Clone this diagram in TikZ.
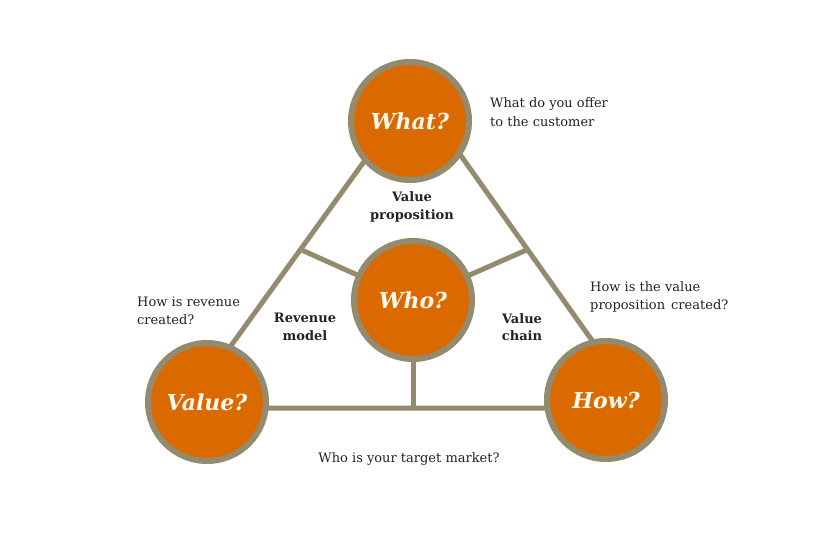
\documentclass[tikz,border=0pt]{standalone}
\usepackage{fontspec}
\setmainfont{DejaVu Serif}
\definecolor{ringc}{RGB}{148,138,110}
\definecolor{orangec}{RGB}{218,106,0}
\definecolor{titlec}{RGB}{255,248,235}
\definecolor{textc}{RGB}{35,35,35}
\begin{document}
\begin{tikzpicture}[x=1pt,y=-1pt,
  ball/.style={circle,draw=ringc,line width=6pt,fill=orangec,minimum size=118pt,inner sep=0pt,
    text=titlec,font=\fontsize{22}{24}\selectfont\bfseries\itshape},
  link/.style={draw=ringc,line width=5pt},
  lab/.style={text=textc,font=\fontsize{13}{17.5}\selectfont\bfseries,align=center,inner sep=0pt},
  note/.style={text=textc,font=\fontsize{13}{18.5}\selectfont,align=left,inner sep=0pt}]
\useasboundingbox (0,0) rectangle (814,540);
\fill[white] (0,0) rectangle (814,540);
\coordinate (A) at (415,91);
\coordinate (B) at (186,408);
\coordinate (C) at (640,408);
\coordinate (mAB) at (300.5,249.5);
\coordinate (mAC) at (527.5,249.5);
\coordinate (mBC) at (413,408);
\coordinate (whoc) at (413,300);
\draw[link,line join=miter] (A) -- (B) -- (C) -- cycle;
\draw[link] (mAB) -- (whoc);
\draw[link] (mAC) -- (whoc);
\draw[link] (mBC) -- (whoc);
\node[ball] (what) at (410,121) {What?};
\node[ball] (who) at (whoc) {Who?};
\node[ball] (value) at (207,402) {Value?};
\node[ball] (how) at (606,400) {How?};
\node[lab] (vp) at (412,207) {Value\\proposition};
\node[lab] (rm) at (305,327) {Revenue\\model};
\node[lab] (vc) at (522,327) {Value\\chain};
\node[note,anchor=west] (n1) at (490,112) {What do you offer\\to the customer};
\node[note,anchor=west] (n2) at (137,311) {How is revenue\\created?};
\node[note,anchor=west] (n3) at (590,297) {How is the value\\proposition\hspace{0.15em} created?};
\node[note] (n4) at (409,459) {Who is your target market?};
\end{tikzpicture}
\end{document}
